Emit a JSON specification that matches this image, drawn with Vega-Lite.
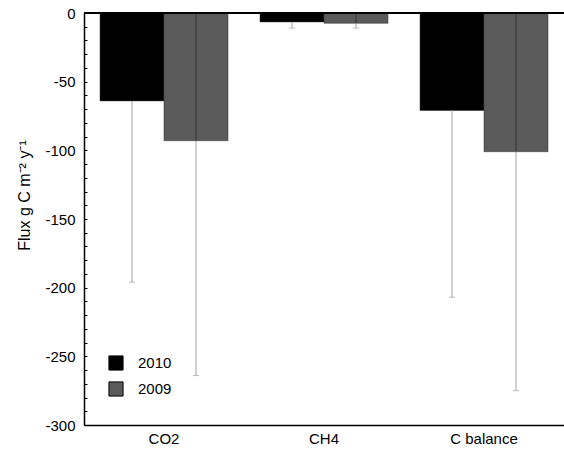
{
  "$schema": "https://vega.github.io/schema/vega-lite/v6.json",
  "autosize": {"type": "none"},
  "padding": {"left": 84, "top": 13, "right": 0, "bottom": 24},
  "width": 480,
  "height": 412,
  "background": "white",
  "config": {
    "font": "Liberation Sans",
    "view": {"stroke": null}
  },
  "data": {
    "values": [
      {"Component": "CO2", "Year": "2010", "Flux": -64, "Lower": -196},
      {"Component": "CO2", "Year": "2009", "Flux": -93, "Lower": -264},
      {"Component": "CH4", "Year": "2010", "Flux": -6.5, "Lower": -11},
      {"Component": "CH4", "Year": "2009", "Flux": -7.5, "Lower": -11},
      {"Component": "C balance", "Year": "2010", "Flux": -71, "Lower": -207},
      {"Component": "C balance", "Year": "2009", "Flux": -101, "Lower": -275}
    ]
  },
  "encoding": {
    "x": {
      "field": "Component", "type": "nominal", "sort": ["CO2", "CH4", "C balance"],
      "scale": {"paddingInner": 0.2, "paddingOuter": 0.1},
      "axis": {"title": null, "labelAngle": 0, "labelFontSize": 15, "labelColor": "#000", "domainColor": "#000", "domainWidth": 1.5, "ticks": false, "labelPadding": 6}
    },
    "xOffset": {"field": "Year", "type": "nominal", "sort": ["2010", "2009"]}
  },
  "layer": [
    {
      "mark": {"type": "bar", "stroke": "#333", "strokeWidth": 0.5},
      "encoding": {
        "y": {
          "field": "Flux", "type": "quantitative",
          "scale": {"domain": [-300, 0], "nice": false},
          "axis": {
            "title": "Flux g C m⁻² y⁻¹", "titleFontSize": 16, "titleFontWeight": "normal", "titleColor": "#000",
            "values": [0,-10,-20,-30,-40,-50,-60,-70,-80,-90,-100,-110,-120,-130,-140,-150,-160,-170,-180,-190,-200,-210,-220,-230,-240,-250,-260,-270,-280,-290,-300],
            "labelExpr": "datum.value % 50 == 0 ? '' + datum.value : ''",
            "labelOverlap": false,
            "labelFontSize": 15, "labelColor": "#000", "labelPadding": 12,
            "tickSize": -3, "tickColor": "#000", "domainColor": "#000", "domainWidth": 1.5, "grid": false,
            "titlePadding": 12, "titleY": 182
          }
        },
        "y2": {"datum": 0},
        "color": {
          "field": "Year", "type": "nominal",
          "scale": {"domain": ["2010", "2009"], "range": ["#000000", "#5a5a5a"]},
          "legend": {
            "title": null, "orient": "none", "legendX": 24, "legendY": 342,
            "symbolType": "square", "symbolSize": 200, "symbolStrokeColor": "#000", "symbolStrokeWidth": 1,
            "labelFontSize": 15, "labelColor": "#000", "labelOffset": 14, "rowPadding": 6
          }
        }
      }
    },
    {
      "transform": [{"filter": "datum.Year === '2009'"}],
      "mark": {"type": "rule", "color": "#333", "strokeWidth": 1},
      "encoding": {
        "y": {"field": "Flux", "type": "quantitative",
          "axis": {
            "title": "Flux g C m⁻² y⁻¹", "titleFontSize": 16, "titleFontWeight": "normal", "titleColor": "#000",
            "values": [0,-10,-20,-30,-40,-50,-60,-70,-80,-90,-100,-110,-120,-130,-140,-150,-160,-170,-180,-190,-200,-210,-220,-230,-240,-250,-260,-270,-280,-290,-300],
            "labelExpr": "datum.value % 50 == 0 ? '' + datum.value : ''",
            "labelOverlap": false,
            "labelFontSize": 15, "labelColor": "#000", "labelPadding": 12,
            "tickSize": -3, "tickColor": "#000", "domainColor": "#000", "domainWidth": 1.5, "grid": false,
            "titlePadding": 12, "titleY": 182
          }},
        "y2": {"datum": 0}
      }
    },
    {
      "mark": {"type": "rule", "color": "#a0a0a0", "strokeWidth": 1},
      "encoding": {
        "y": {"field": "Flux", "type": "quantitative",
          "axis": {
            "title": "Flux g C m⁻² y⁻¹", "titleFontSize": 16, "titleFontWeight": "normal", "titleColor": "#000",
            "values": [0,-10,-20,-30,-40,-50,-60,-70,-80,-90,-100,-110,-120,-130,-140,-150,-160,-170,-180,-190,-200,-210,-220,-230,-240,-250,-260,-270,-280,-290,-300],
            "labelExpr": "datum.value % 50 == 0 ? '' + datum.value : ''",
            "labelOverlap": false,
            "labelFontSize": 15, "labelColor": "#000", "labelPadding": 12,
            "tickSize": -3, "tickColor": "#000", "domainColor": "#000", "domainWidth": 1.5, "grid": false,
            "titlePadding": 12, "titleY": 182
          }},
        "y2": {"field": "Lower"}
      }
    },
    {
      "mark": {"type": "tick", "color": "#a0a0a0", "thickness": 1, "size": 6},
      "encoding": {
        "y": {"field": "Lower", "type": "quantitative",
          "axis": {
            "title": "Flux g C m⁻² y⁻¹", "titleFontSize": 16, "titleFontWeight": "normal", "titleColor": "#000",
            "values": [0,-10,-20,-30,-40,-50,-60,-70,-80,-90,-100,-110,-120,-130,-140,-150,-160,-170,-180,-190,-200,-210,-220,-230,-240,-250,-260,-270,-280,-290,-300],
            "labelExpr": "datum.value % 50 == 0 ? '' + datum.value : ''",
            "labelOverlap": false,
            "labelFontSize": 15, "labelColor": "#000", "labelPadding": 12,
            "tickSize": -3, "tickColor": "#000", "domainColor": "#000", "domainWidth": 1.5, "grid": false,
            "titlePadding": 12, "titleY": 182
          }}
      }
    },
    {
      "mark": {"type": "rule", "color": "#000", "strokeWidth": 1.5},
      "encoding": {
        "y": {"datum": 0,
          "axis": {
            "title": "Flux g C m⁻² y⁻¹", "titleFontSize": 16, "titleFontWeight": "normal", "titleColor": "#000",
            "values": [0,-10,-20,-30,-40,-50,-60,-70,-80,-90,-100,-110,-120,-130,-140,-150,-160,-170,-180,-190,-200,-210,-220,-230,-240,-250,-260,-270,-280,-290,-300],
            "labelExpr": "datum.value % 50 == 0 ? '' + datum.value : ''",
            "labelOverlap": false,
            "labelFontSize": 15, "labelColor": "#000", "labelPadding": 12,
            "tickSize": -3, "tickColor": "#000", "domainColor": "#000", "domainWidth": 1.5, "grid": false,
            "titlePadding": 12, "titleY": 182
          }},
        "x": {"value": 0},
        "x2": {"value": 480},
        "xOffset": null
      }
    }
  ]
}
